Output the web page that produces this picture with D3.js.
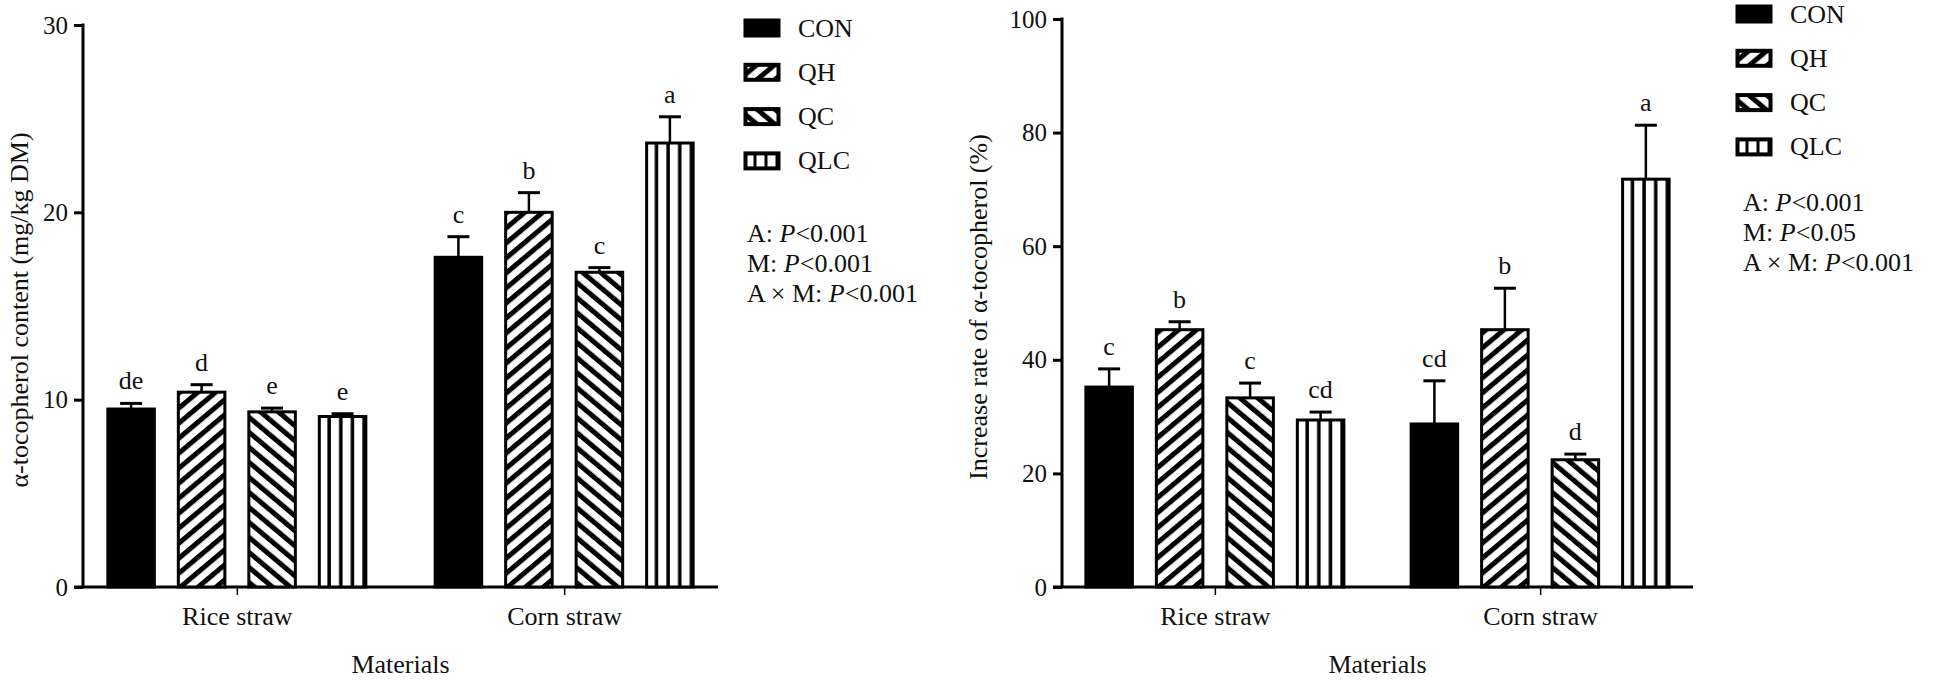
<!DOCTYPE html>
<html>
<head>
<meta charset="utf-8">
<script src="https://cdn.jsdelivr.net/npm/d3@7"></script>
<style>
  body { margin: 0; background: #fff; }
  svg text { font-family: "Liberation Serif", "Times New Roman", serif; fill: #111; }
</style>
</head>
<body>
<svg id="chart" width="1940" height="680"></svg>
<script>
// data
var categories = ["Rice straw", "Corn straw"];
var treatments = ["CON", "QH", "QC", "QLC"];

var contentMeans = [[9.5, 10.4, 9.35, 9.1], [17.6, 20.0, 16.8, 23.7]];
var contentErr = [[0.3, 0.4, 0.2, 0.15], [1.1, 1.05, 0.25, 1.4]];
var contentLetters = [["de", "d", "e", "e"], ["c", "b", "c", "a"]];
var contentTicks = [0, 10, 20, 30];
var contentStats = [["A: ", "P", "<0.001"], ["M: ", "P", "<0.001"], ["A × M: ", "P", "<0.001"]];

var rateMeans = [[35.2, 45.3, 33.3, 29.4], [28.7, 45.3, 22.4, 71.8]];
var rateErr = [[3.2, 1.4, 2.6, 1.4], [7.6, 7.3, 1.0, 9.5]];
var rateLetters = [["c", "b", "c", "cd"], ["cd", "b", "d", "a"]];
var rateTicks = [0, 20, 40, 60, 80, 100];
var rateStats = [["A: ", "P", "<0.001"], ["M: ", "P", "<0.05"], ["A × M: ", "P", "<0.001"]];

var svg = d3.select("#chart");
var defs = svg.append("defs");

// hatch patterns
function stripes(id, angle, period, black, bbox) {
  var p = defs.append("pattern").attr("id", id);
  if (bbox) {
    p.attr("patternUnits", "objectBoundingBox").attr("width", bbox).attr("height", 1);
  } else {
    p.attr("patternUnits", "userSpaceOnUse").attr("width", period).attr("height", period)
      .attr("patternTransform", "rotate(" + angle + ")");
  }
  p.append("rect").attr("width", period).attr("height", 2000).attr("fill", "#fff");
  p.append("rect").attr("x", bbox ? period - black : 0).attr("width", black).attr("height", 2000).attr("fill", "#000");
}
stripes("p-qh", 50, 11.5, 5);
stripes("p-qc", -50, 11.5, 5);
stripes("p-qlc", 0, 11.6, 3.5, 0.25);
stripes("p-qlc-key", 0, 12, 4, 1 / 3);

var fills = {CON: "#000", QH: "url(#p-qh)", QC: "url(#p-qc)", QLC: "url(#p-qlc)"};
var keyFills = {CON: "#000", QH: "url(#p-qh)", QC: "url(#p-qc)", QLC: "url(#p-qlc-key)"};

function panel(o) {
  var g = svg.append("g");

  var y = d3.scaleLinear().domain([0, o.max]).range([587, o.top]);
  var x = d3.scalePoint().domain(categories).range([o.x0, o.x1]).padding(0.47);
  var xs = d3.scaleBand().domain(treatments).range([-129, 129]).paddingInner(0.34);

  // y axis
  var ya = g.append("g").attr("transform", "translate(" + o.x0 + ",0)")
    .call(d3.axisLeft(y).tickValues(o.ticks).tickSize(9).tickSizeOuter(0).tickPadding(6));
  ya.select(".domain").attr("stroke-width", 3).attr("d", "M0," + (o.top - 1.5) + "V587");
  ya.selectAll(".tick line").attr("stroke-width", 3);
  ya.selectAll(".tick text").attr("font-size", 25).attr("font-family", "Liberation Serif").attr("fill", "#111");

  // x axis
  var xa = g.append("g").attr("transform", "translate(0,587)")
    .call(d3.axisBottom(x).tickSize(8).tickSizeOuter(0).tickPadding(12));
  xa.select(".domain").attr("stroke-width", 3).attr("d", "M" + (o.x0 - 9) + ",0H" + o.x1);
  xa.selectAll(".tick line").attr("stroke-width", 1.5);
  xa.selectAll(".tick text").attr("font-size", 26).attr("font-family", "Liberation Serif").attr("fill", "#111");

  var rows = [];
  categories.forEach(function(c, i) {
    treatments.forEach(function(t, j) {
      rows.push({cat: c, trt: t, v: o.means[i][j], e: o.err[i][j], lab: o.letters[i][j]});
    });
  });

  var bars = g.selectAll("g.bar").data(rows).enter().append("g").attr("class", "bar")
    .attr("transform", function(d) { return "translate(" + (x(d.cat) + xs(d.trt)) + ",0)"; });

  var bw = xs.bandwidth();
  bars.append("line")
    .attr("x1", bw / 2).attr("x2", bw / 2)
    .attr("y1", function(d) { return y(d.v); })
    .attr("y2", function(d) { return y(d.v + d.e); })
    .attr("stroke", "#000").attr("stroke-width", 2.5);
  bars.append("line")
    .attr("x1", bw / 2 - 11).attr("x2", bw / 2 + 11)
    .attr("y1", function(d) { return y(d.v + d.e); })
    .attr("y2", function(d) { return y(d.v + d.e); })
    .attr("stroke", "#000").attr("stroke-width", 3);
  bars.append("rect")
    .attr("x", 0).attr("width", bw)
    .attr("y", function(d) { return y(d.v); })
    .attr("height", function(d) { return y(0) - y(d.v); })
    .attr("fill", function(d) { return fills[d.trt]; })
    .attr("stroke", "#000").attr("stroke-width", 3);
  bars.append("text")
    .attr("x", bw / 2)
    .attr("y", function(d) { return y(d.v + d.e) - 14; })
    .attr("text-anchor", "middle").attr("font-size", 26)
    .text(function(d) { return d.lab; });

  // axis titles
  g.append("text")
    .attr("transform", "translate(" + o.ytx + "," + ((o.top + 587) / 2 + 4) + ") rotate(-90)")
    .attr("text-anchor", "middle").attr("font-size", 26)
    .text(o.ytitle);
  g.append("text")
    .attr("x", (o.x0 + o.x1) / 2).attr("y", 673)
    .attr("text-anchor", "middle").attr("font-size", 26)
    .text("Materials");

  // legend
  var key = g.selectAll("g.key").data(treatments).enter().append("g").attr("class", "key")
    .attr("transform", function(d, i) { return "translate(" + o.lx + "," + (o.ly + i * 44.3) + ")"; });
  key.append("rect")
    .attr("x", 1.5).attr("y", -7.5).attr("width", 33).attr("height", 15)
    .attr("fill", function(d) { return keyFills[d]; })
    .attr("stroke", "#000").attr("stroke-width", 4);
  key.append("text")
    .attr("x", 54).attr("y", 8.5).attr("font-size", 26)
    .text(function(d) { return d; });

  // stats
  var st = g.selectAll("text.stat").data(o.stats).enter().append("text").attr("class", "stat")
    .attr("x", o.sx).attr("y", function(d, i) { return o.sy + i * 30; })
    .attr("font-size", 26);
  st.append("tspan").text(function(d) { return d[0]; });
  st.append("tspan").attr("font-style", "italic").text(function(d) { return d[1]; });
  st.append("tspan").text(function(d) { return d[2]; });
}

panel({x0: 83, x1: 718, top: 25, max: 30, ticks: contentTicks,
  means: contentMeans, err: contentErr, letters: contentLetters,
  ytitle: "α-tocopherol content (mg/kg DM)", ytx: 28,
  lx: 744, ly: 28, sx: 747, sy: 242, stats: contentStats});

panel({x0: 1062, x1: 1693, top: 19, max: 100, ticks: rateTicks,
  means: rateMeans, err: rateErr, letters: rateLetters,
  ytitle: "Increase rate of α-tocopherol (%)", ytx: 987,
  lx: 1736, ly: 14, sx: 1743, sy: 211, stats: rateStats});
</script>
</body>
</html>
